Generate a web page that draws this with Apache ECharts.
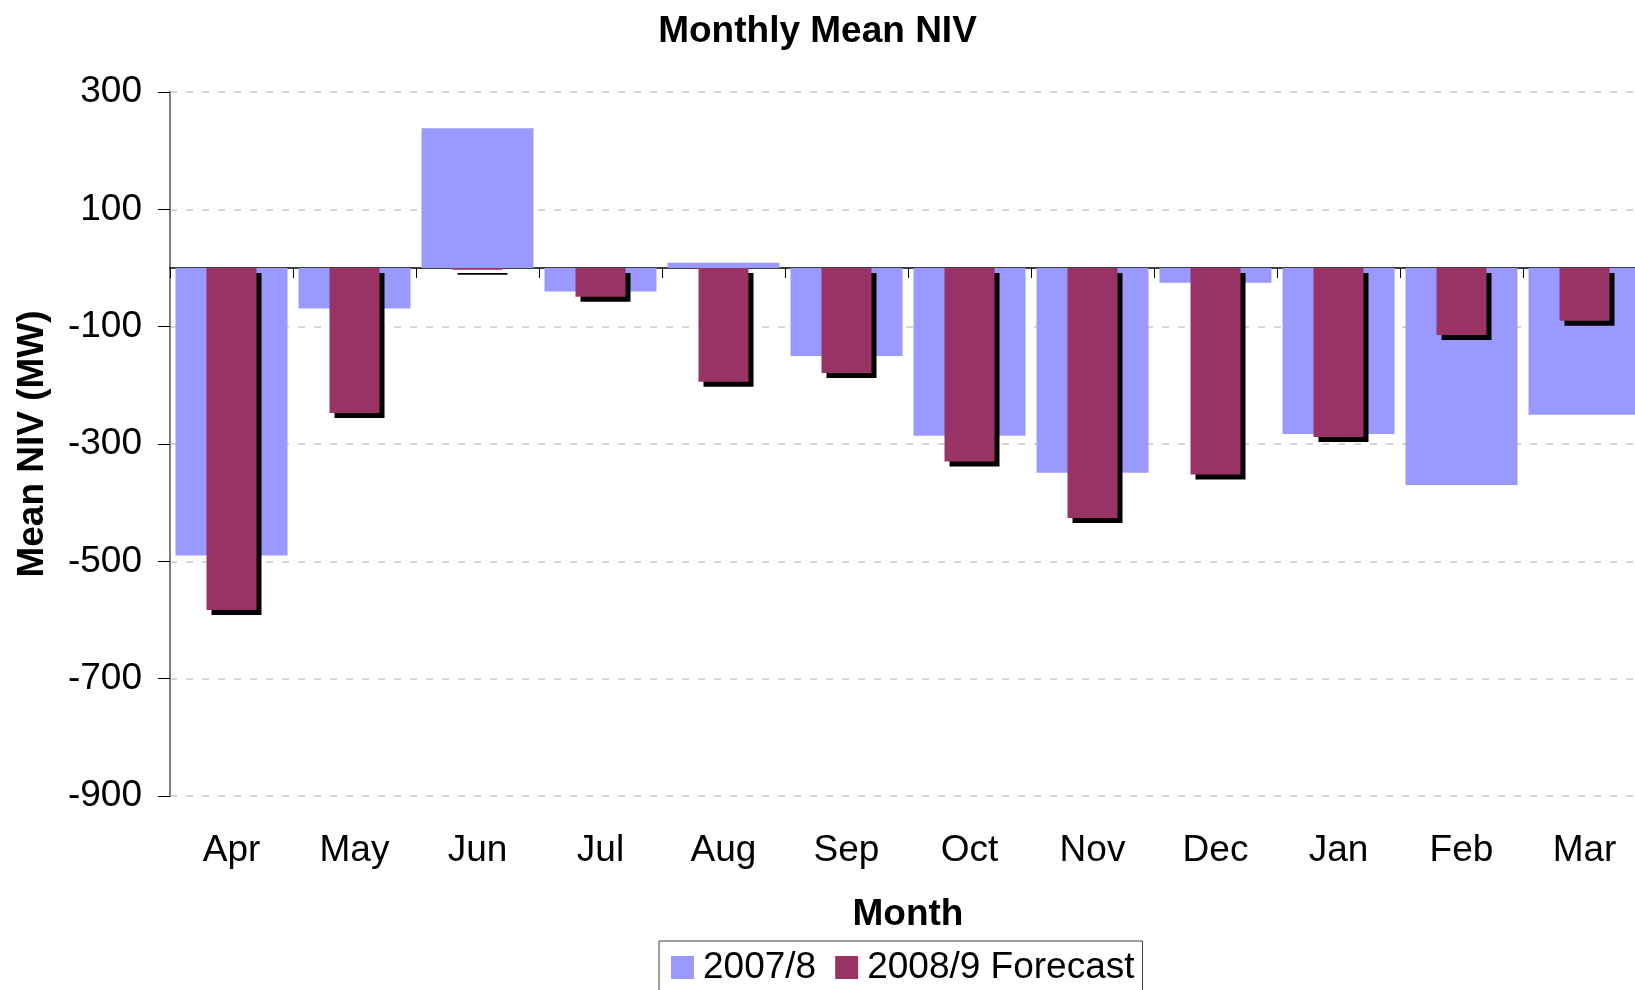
<!DOCTYPE html>
<html>
<head>
<meta charset="utf-8">
<script src="https://cdn.jsdelivr.net/npm/echarts@6/dist/echarts.min.js"></script>
<style>
html,body{margin:0;padding:0;background:#fff;overflow:hidden;}
#chart{width:1635px;height:990px;}
</style>
</head>
<body>
<div id="chart"></div>
<script>
const months = ['Apr','May','Jun','Jul','Aug','Sep','Oct','Nov','Dec','Jan','Feb','Mar'];
const niv2007 = [-490, -69, 238, -40, 9, -150, -286, -349, -25, -283, -370, -250];
const niv2008Forecast = [-583, -247, -3, -49, -194, -179, -330, -426, -352, -288, -114, -90];
const yTicks = [-900, -700, -500, -300, -100, 100, 300];
const seriesNames = ['2007/8', '2008/9 Forecast'];

const FONT = '"Liberation Sans", Arial, sans-serif';
const FS = 37;
const chart = echarts.init(document.getElementById('chart'), null, {renderer: 'canvas'});
chart.setOption({
  animation: false,
  backgroundColor: '#ffffff',
  textStyle: {fontFamily: FONT},
  title: {
    text: 'Monthly Mean NIV',
    left: 'center',
    top: 8,
    textStyle: {fontFamily: FONT, fontSize: FS, fontWeight: 'bold', color: '#000'}
  },
  legend: {
    data: seriesNames,
    left: 659,
    top: 941,
    icon: 'rect',
    itemWidth: 23,
    itemHeight: 23,
    itemGap: 19,
    padding: [8, 8, 14, 12],
    borderColor: '#404040',
    borderWidth: 1,
    itemStyle: {shadowColor: 'rgba(0,0,0,0)', shadowOffsetX: 0, shadowOffsetY: 0, shadowBlur: 0},
    textStyle: {fontFamily: FONT, fontSize: FS, color: '#000', padding: [0, 0, 0, 4]}
  },
  grid: {left: 170, width: 1476, top: 92, bottom: 194, containLabel: false, outerBoundsMode: 'none'},
  xAxis: [
    {
      type: 'category',
      data: months,
      position: 'bottom',
      axisLine: {show: false, onZero: false},
      axisTick: {show: false},
      axisLabel: {fontFamily: FONT, fontSize: FS, color: '#000', margin: 36},
      splitLine: {show: false},
      name: 'Month',
      nameLocation: 'middle',
      nameGap: 100,
      nameTextStyle: {fontFamily: FONT, fontSize: FS, fontWeight: 'bold', color: '#000'}
    },
    {
      type: 'category',
      data: months,
      position: 'bottom',
      axisLine: {show: true, onZero: true, lineStyle: {color: '#000', width: 1.5}},
      axisTick: {show: true, length: 10, lineStyle: {color: '#000', width: 1}},
      axisLabel: {show: false},
      splitLine: {show: false}
    }
  ],
  yAxis: {
    type: 'value',
    min: -900,
    max: 300,
    interval: 200,
    axisLine: {show: true, lineStyle: {color: '#808080', width: 2}},
    axisTick: {show: true, length: 12, lineStyle: {color: '#000', width: 1}, customValues: yTicks},
    axisLabel: {fontFamily: FONT, fontSize: FS, color: '#000', margin: 28, customValues: yTicks},
    splitLine: {show: true, lineStyle: {color: '#c8c8c8', width: 1.5, type: [7, 9]}},
    name: 'Mean NIV (MW)',
    nameLocation: 'middle',
    nameGap: 119,
    nameTextStyle: {fontFamily: FONT, fontSize: FS, fontWeight: 'bold', color: '#000'}
  },
  series: [
    {
      name: seriesNames[0],
      type: 'bar',
      xAxisIndex: 0,
      data: niv2007,
      barWidth: 112,
      itemStyle: {color: '#9999ff'},
      z: 2
    },
    {
      name: seriesNames[1],
      type: 'bar',
      xAxisIndex: 1,
      data: niv2008Forecast,
      barWidth: 50,
      itemStyle: {color: '#993366', shadowColor: '#000', shadowOffsetX: 5, shadowOffsetY: 5, shadowBlur: 0},
      z: 3
    }
  ]
});
</script>
</body>
</html>
